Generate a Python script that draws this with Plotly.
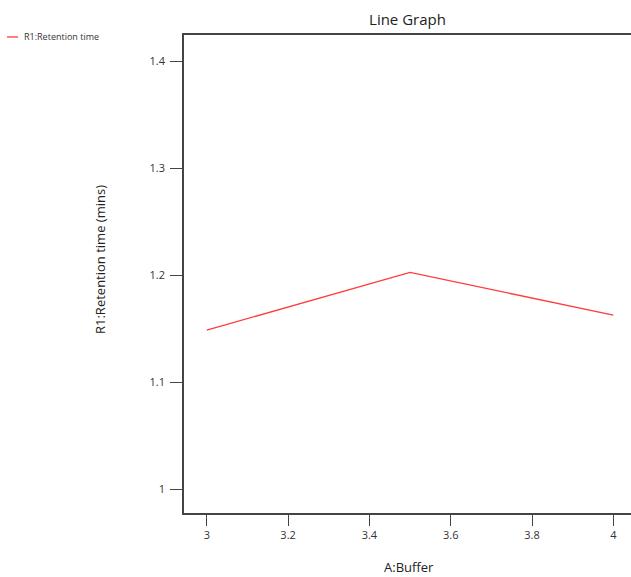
import plotly.graph_objects as go

buffer_x = [3, 3.5, 4]
retention = [1.1486, 1.2025, 1.1626]
series_name = "R1:Retention time"
x_ticks = [3, 3.2, 3.4, 3.6, 3.8, 4]
x_tick_text = ["3", "3.2", "3.4", "3.6", "3.8", "4"]
y_ticks = [1, 1.1, 1.2, 1.3, 1.4]
y_tick_text = ["1", "1.1", "1.2", "1.3", "1.4"]

FONT = "Open Sans"
W, H = 631, 577
ML, MR, MT, MB = 184, 0, 35, 64

fig = go.Figure()
fig.add_trace(go.Scatter(
    x=buffer_x, y=retention, mode="lines", name=series_name,
    line=dict(color="#ff3b3b", width=1.3), showlegend=False,
))

fig.update_layout(
    width=W, height=H,
    margin=dict(l=ML, r=MR, t=MT, b=MB, pad=0),
    paper_bgcolor="white", plot_bgcolor="white",
    font=dict(family=FONT, color="#333333"),
    title=dict(text="Line Graph", x=(ML + W) / 2 / W,
               xanchor="center", y=1 - 20 / H, yanchor="middle",
               font=dict(size=15, family=FONT, color="#222222")),
    xaxis=dict(
        range=[2.944, 4.0435], tickvals=x_ticks, ticktext=x_tick_text,
        showgrid=False, zeroline=False, showline=True, linecolor="#444444", linewidth=1.5,
        mirror=True, ticks="outside", ticklen=11, tickcolor="#444444", tickwidth=1.2,
        tickfont=dict(size=11, family=FONT, color="#333333"),
        automargin=False,
    ),
    yaxis=dict(
        range=[0.9778, 1.4243], tickvals=y_ticks, ticktext=y_tick_text,
        showgrid=False, zeroline=False, showline=True, linecolor="#444444", linewidth=1.5,
        ticks="outside", ticklen=12, tickcolor="#444444", tickwidth=1.2,
        ticklabelstandoff=3,
        tickfont=dict(size=11, family=FONT, color="#333333"),
        automargin=False,
    ),
)

pw = W - ML - MR
ph = H - MT - MB
def px_to_paper_x(px):
    return (px - ML) / pw
def px_to_paper_y(py):
    return (H - MB - py) / ph

# axis titles
fig.add_annotation(text="A:Buffer", xref="paper", yref="paper",
                   x=px_to_paper_x(409), y=px_to_paper_y(567), xanchor="center", yanchor="middle",
                   showarrow=False, font=dict(size=13, family=FONT, color="#222222"))
fig.add_annotation(text="R1:Retention time (mins)", xref="paper", yref="paper",
                   x=px_to_paper_x(100), y=px_to_paper_y(260), xanchor="center", yanchor="middle",
                   textangle=-90, showarrow=False, font=dict(size=13, family=FONT, color="#222222"))

# legend drawn manually at top-left
fig.add_shape(type="line", xref="paper", yref="paper",
              x0=px_to_paper_x(7), x1=px_to_paper_x(18),
              y0=px_to_paper_y(37), y1=px_to_paper_y(37),
              line=dict(color="#ff3b3b", width=1.3))
fig.add_annotation(text=series_name, xref="paper", yref="paper",
                   x=px_to_paper_x(22), y=px_to_paper_y(37), xanchor="left", yanchor="middle",
                   showarrow=False, font=dict(size=9, family=FONT, color="#333333"))

fig.write_html("out.html")
